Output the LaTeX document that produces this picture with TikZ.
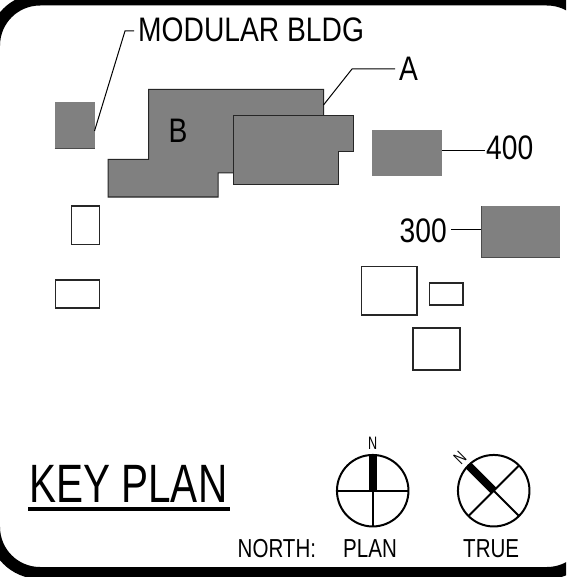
\documentclass[tikz,border=0pt]{standalone}
\usepackage{fontspec}
\setmainfont{Liberation Sans}
\newfontfamily\bigfont[FakeStretch=0.83]{Liberation Sans}
\newfontfamily\keyfont[FakeStretch=0.75]{Liberation Sans}
\newfontfamily\smallfont[FakeStretch=0.79]{Liberation Sans}
\newfontfamily\tinyfont[FakeStretch=0.7]{Liberation Sans}
\definecolor{gray50}{RGB}{128,128,128}
\tikzset{
  graybox/.style={fill=gray50, draw=none, inner sep=0pt, outer sep=0pt},
  whitebox/.style={fill=white, draw=black!85, line width=1.1pt, inner sep=0pt, outer sep=0pt},
  bldg/.style={fill=gray50, draw=black!85, line width=1pt, line join=miter},
  leader/.style={draw=black, line width=1pt},
  edgeline/.style={draw=black!70, line width=0.8pt},
  biglabel/.style={font=\bigfont\fontsize{34}{34}\selectfont, inner sep=0pt, anchor=base west},
  keylabel/.style={font=\keyfont\fontsize{54}{54}\selectfont, inner sep=0pt, anchor=base west},
  smalllabel/.style={font=\smallfont\fontsize{26}{26}\selectfont, inner sep=0pt, anchor=base west},
  tinylabel/.style={font=\tinyfont\fontsize{18}{18}\selectfont, inner sep=0pt},
  compass/.style={circle, draw=black, line width=2pt, minimum size=71.5pt, inner sep=0pt, outer sep=0pt},
  hair/.style={draw=black, line width=2pt},
  needle/.style={draw=black, line width=8pt}
}
\begin{document}
\begin{tikzpicture}[x=1pt,y=-1pt]
\clip (0,0) rectangle (566,577);
\fill[white] (0,0) rectangle (566,577);
% frame
\draw[black, line width=12pt, rounded corners=46pt] (-6,-0.5) rectangle (593,573);

% shaded buildings
\node[graybox, minimum width=40.5pt, minimum height=46.5pt] (modular) at (74.75,125.25) {};
\node[graybox, minimum width=70pt, minimum height=46pt] (b400) at (407,153) {};
\node[graybox, minimum width=79pt, minimum height=51pt] (b300) at (520.5,231.5) {};
\draw[edgeline] (modular.south west) -- (modular.south east);
\draw[edgeline] (b300.north west) -- (b300.south west) -- (b300.south east);
\draw[bldg] (148.5,89.5) -- (323.5,89.5) -- (323.5,125) -- (233,173) -- (218,173) -- (218,197) -- (108,197) -- (108,159.5) -- (148.5,159.5) -- cycle;
\draw[bldg] (233,115.5) -- (353,115.5) -- (353,151.5) -- (338.5,151.5) -- (338.5,185) -- (233,185) -- cycle;

% white buildings
\node[whitebox, minimum width=28pt, minimum height=38.5pt] (w1) at (85.5,225.25) {};
\node[whitebox, minimum width=44pt, minimum height=28pt] (w2) at (77.5,294) {};
\node[whitebox, minimum width=55.5pt, minimum height=48.5pt] (w3) at (389.25,290.75) {};
\node[whitebox, minimum width=33.5pt, minimum height=22pt] (w4) at (446.25,294) {};
\node[whitebox, minimum width=47pt, minimum height=42pt] (w5) at (436.5,349) {};

% labels
\node[biglabel] (lmod) at (138,42) {MODULAR BLDG};
\node[biglabel] (la) at (399,80.5) {A};
\node[biglabel] (lb) at (168.5,143) {B};
\node[biglabel] (l400) at (486,159.5) {400};
\node[biglabel] (l300) at (399.5,242.5) {300};
\node[keylabel] (lkey) at (29,502) {KEY PLAN};
\node[smalllabel] (lnorth) at (237.5,557) {NORTH:};
\node[smalllabel] (lplan) at (343,557) {PLAN};
\node[smalllabel] (ltrue) at (463,557) {TRUE};
\node[tinylabel] (nplan) at (372.7,443) {N};
\node[tinylabel, rotate=45] (ntrue) at (460,457.5) {N};

% underline
\coordinate (ulstart) at (28,509);
\coordinate (ulend) at (230,509);
\draw[black, line width=3.6pt] (ulstart) -- (ulend);

% leaders
\coordinate (modfoot) at (94.5,131);
\coordinate (modbend) at (125,31);
\coordinate (modend) at (134,31);
\coordinate (afoot) at (323.5,105);
\coordinate (abend) at (352,69);
\coordinate (aend) at (395,69);
\draw[leader] (modfoot) -- (modbend) -- (modend);
\draw[leader] (afoot) -- (abend) -- (aend);
\coordinate (e400) at (442,151);
\coordinate (e400b) at (485,151);
\draw[leader] (e400) -- (e400b);
\coordinate (e300) at (451,229);
\coordinate (e300b) at (481,229);
\draw[leader] (e300) -- (e300b);

% north symbols
\node[compass] (cplan) at (372.7,490.7) {};
\node[compass] (ctrue) at (493.7,490.7) {};
\draw[hair] (cplan.west) -- (cplan.east);
\draw[hair] (cplan.north) -- (cplan.south);
\draw[needle] (cplan.north) -- (cplan.center);
\draw[hair] (ctrue.north east) -- (ctrue.south west);
\draw[hair] (ctrue.north west) -- (ctrue.south east);
\draw[needle] (ctrue.north west) -- (ctrue.center);
\end{tikzpicture}
\end{document}
